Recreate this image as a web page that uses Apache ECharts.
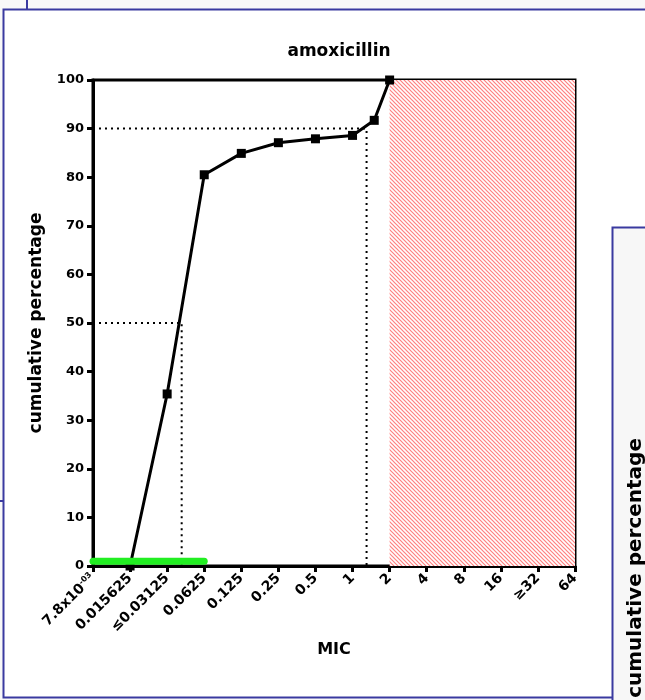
<!DOCTYPE html>
<html>
<head>
<meta charset="utf-8">
<script src="https://cdn.jsdelivr.net/npm/echarts@6/dist/echarts.min.js"></script>
<style>
  html, body { margin: 0; padding: 0; background: #f8f8f8; }
  #chart { width: 645px; height: 700px; }
</style>
</head>
<body>
<div id="chart"></div>
<script>
// Cumulative MIC distribution for amoxicillin
const micValues = [0.015625, 0.03125, 0.0625, 0.125, 0.25, 0.5, 1, 1.5, 2];
const cumulativePct = [0, 35.4, 80.5, 84.9, 87.1, 87.9, 88.6, 91.7, 100];

// Tested concentration steps shown on the axis (powers of two)
const micTicks = [0.0078125, 0.015625, 0.03125, 0.0625, 0.125, 0.25, 0.5, 1, 2, 4, 8, 16, 32, 64];
const micTickLabels = ['7.8x10{sup|-03}', '0.015625', '≤0.03125', '0.0625', '0.125', '0.25', '0.5',
                       '1', '2', '4', '8', '16', '≥32', '64'];

// MIC50 / MIC90 read-offs
const mic50 = 0.041;
const mic90 = 1.3;

// Susceptible range (green bar) and resistant range (hatched)
const susceptibleRange = [0.0078125, 0.0625];
const susceptibleLevel = 1;
const resistantRange = [2, 64];

const FONT = '"DejaVu Sans", "Liberation Sans", Arial, sans-serif';

function makeHatch() {
  const c = document.createElement('canvas');
  c.width = 4; c.height = 4;
  const g = c.getContext('2d');
  g.fillStyle = '#ffffff';
  g.fillRect(0, 0, 4, 4);
  g.strokeStyle = '#ff8080';
  g.lineWidth = 1.2;
  g.beginPath();
  g.moveTo(-1, -1); g.lineTo(5, 5);
  g.moveTo(-1, 3); g.lineTo(1, 5);
  g.moveTo(3, -1); g.lineTo(5, 1);
  g.stroke();
  return c;
}

const chart = echarts.init(document.getElementById('chart'), null, { renderer: 'canvas' });

const minMic = micTicks[0];
const maxMic = micTicks[micTicks.length - 1];

function labelFor(v) {
  const idx = Math.round(Math.log2(v / minMic));
  return micTickLabels[idx] !== undefined ? micTickLabels[idx] : '';
}

const curve = micValues.map((m, i) => [m, cumulativePct[i]]);

const option = {
  backgroundColor: 'transparent',
  animation: false,
  graphic: [
    { type: 'line', shape: { x1: 27, y1: 0, x2: 27, y2: 9 }, style: { stroke: '#3a3aa0', lineWidth: 2 }, z: 0 },
    { type: 'rect', shape: { x: 3.5, y: 9.5, width: 700, height: 688 },
      style: { fill: '#ffffff', stroke: '#3a3aa0', lineWidth: 2 }, z: -10 },
    { type: 'line', shape: { x1: 0, y1: 501, x2: 3, y2: 501 }, style: { stroke: '#3a3aa0', lineWidth: 2 }, z: 0 },
    { type: 'rect', shape: { x: 612.5, y: 227.5, width: 100, height: 600 },
      style: { fill: '#f7f7f7', stroke: '#3a3aa0', lineWidth: 2 }, z: 50 },
    { type: 'text', x: 636, y: 438, rotation: Math.PI / 2, z: 51,
      style: { text: 'cumulative percentage', font: 'bold 20px ' + FONT, fill: '#000',
               align: 'right', verticalAlign: 'middle' } }
  ],
  title: {
    text: 'amoxicillin',
    left: 334,
    top: 38,
    textAlign: 'center',
    textStyle: { fontFamily: FONT, fontWeight: 'bold', fontSize: 17, color: '#000' }
  },
  grid: { left: 93, right: 70, top: 80, bottom: 134, show: true, borderColor: '#000', borderWidth: 3, backgroundColor: 'transparent' },
  xAxis: {
    type: 'log',
    logBase: 2,
    min: minMic,
    max: maxMic,
    interval: 1,
    name: 'MIC',
    nameLocation: 'middle',
    nameGap: 74,
    nameTextStyle: { fontFamily: FONT, fontWeight: 'bold', fontSize: 16, color: '#000' },
    axisLine: { lineStyle: { color: '#000', width: 3 } },
    axisTick: { length: 6, lineStyle: { color: '#000', width: 3 } },
    splitLine: { show: false },
    axisLabel: {
      rotate: 45,
      margin: 10,
      fontFamily: FONT, fontWeight: 'bold', fontSize: 14, color: '#000',
      formatter: labelFor,
      rich: {
        sup: { fontFamily: FONT, fontWeight: 'bold', fontSize: 8, color: '#000', verticalAlign: 'top', padding: [0, 0, 7, 0] }
      }
    }
  },
  yAxis: {
    type: 'value',
    min: 0, max: 100, interval: 10,
    name: 'cumulative percentage',
    nameLocation: 'middle',
    nameGap: 48,
    nameTextStyle: { fontFamily: FONT, fontWeight: 'bold', fontSize: 17, color: '#000' },
    axisLine: { lineStyle: { color: '#000', width: 3 } },
    axisTick: { length: 6, lineStyle: { color: '#000', width: 3 } },
    splitLine: { show: false },
    axisLabel: { margin: 9, fontFamily: FONT, fontWeight: 'bold', fontSize: 13, color: '#000' }
  },
  series: [
    {
      name: 'resistant',
      type: 'line',
      data: [],
      markArea: {
        silent: true,
        itemStyle: { color: { image: makeHatch(), repeat: 'repeat' }, borderWidth: 0 },
        data: [[{ xAxis: resistantRange[0], yAxis: 0 }, { xAxis: resistantRange[1], yAxis: 100 }]]
      },
      z: 1
    },
    {
      name: 'MIC50',
      type: 'line',
      data: [[minMic, 50], [mic50, 50], [mic50, 0]],
      symbol: 'none',
      lineStyle: { color: '#000', width: 2, type: [2, 4] },
      z: 2
    },
    {
      name: 'MIC90',
      type: 'line',
      data: [[minMic, 90], [mic90, 90], [mic90, 0]],
      symbol: 'none',
      lineStyle: { color: '#000', width: 2, type: [2, 4] },
      z: 2
    },
    {
      name: 'cumulative',
      type: 'line',
      data: curve,
      symbol: 'rect',
      symbolSize: 9,
      itemStyle: { color: '#000' },
      lineStyle: { color: '#000', width: 3 },
      z: 3
    },
    {
      name: 'susceptible',
      type: 'line',
      data: [[susceptibleRange[0], susceptibleLevel], [susceptibleRange[1], susceptibleLevel]],
      symbol: 'none',
      lineStyle: { color: '#22ee22', width: 7, cap: 'round' },
      z: 4
    }
  ]
};

chart.setOption(option);
</script>
</body>
</html>
